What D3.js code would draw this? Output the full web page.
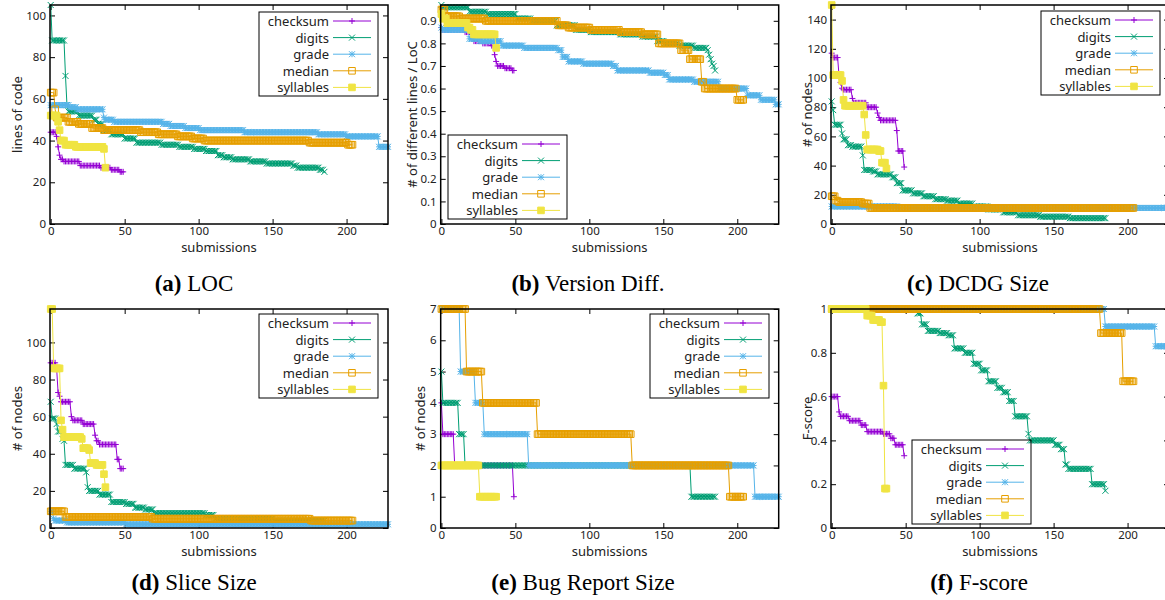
<!DOCTYPE html>
<html>
<head>
<meta charset="utf-8">
<script src="https://cdn.jsdelivr.net/npm/d3@7"></script>
<style>
    body { margin: 0; background: #fff; }
    svg text { font-family: "Noto Sans", sans-serif; fill: #222; }
    svg text.caption { font-family: "Liberation Serif", serif; fill: #000; }
</style>
</head>
<body>
<svg id="chart" width="1165" height="600"></svg>
<script>
// series order = legend order
var seriesNames = ["checksum", "digits", "grade", "median", "syllables"];
var seriesColors = ["#9400d3", "#009e73", "#56b4e9", "#e69f00", "#f0e442"];
var submissionCounts = [50, 186, 229, 205, 38];

// every series is a list of steps: [first submission, value], held until the next step
// (a) LOC
var locChecksum = [[0, 44], [4, 42], [5, 37], [6, 33], [7, 31], [9, 30], [20, 28], [34, 27], [41, 26], [47, 25]];
var locDigits = [[0, 105], [1, 88], [10, 71], [11, 57], [12, 54], [19, 52], [29, 50], [32, 48], [36, 45], [41, 43], [50, 41], [58, 39],
    [75, 38], [87, 37], [97, 36], [105, 35], [113, 33], [117, 32], [123, 31], [135, 30], [146, 29], [164, 28], [167, 27], [182, 26], [185, 25]];
var locGrade = [[0, 57], [13, 56], [18, 55], [36, 51], [37, 50], [43, 49], [76, 48], [81, 47], [91, 46], [101, 45], [131, 44], [181, 43], [200, 42], [222, 37]];
var locMedian = [[0, 63], [3, 55], [4, 51], [12, 49], [19, 48], [28, 46], [36, 45], [61, 44], [73, 43], [86, 42], [96, 41], [104, 40], [175, 39], [201, 38]];
var locSyllables = [[0, 52], [5, 49], [6, 45], [7, 40], [10, 38], [17, 37], [36, 36], [37, 27]];

// (b) Version Diff.
var diffChecksum = [[0, 0.87], [1, 0.86], [16, 0.85], [21, 0.82], [22, 0.81], [28, 0.80], [34, 0.79], [36, 0.75], [37, 0.72], [38, 0.70], [43, 0.69], [48, 0.68]];
var diffDigits = [[0, 0.97], [1, 0.96], [19, 0.94], [31, 0.93], [51, 0.91], [61, 0.90], [78, 0.88], [91, 0.86], [101, 0.85], [121, 0.84], [136, 0.83],
    [146, 0.81], [151, 0.80], [161, 0.79], [171, 0.78], [180, 0.77], [181, 0.75], [182, 0.73], [183, 0.71], [184, 0.70], [185, 0.68]];
var diffGrade = [[0, 0.87], [1, 0.86], [19, 0.82], [26, 0.81], [41, 0.79], [56, 0.78], [79, 0.77], [82, 0.74], [86, 0.72], [96, 0.71], [116, 0.70], [119, 0.68],
    [141, 0.67], [151, 0.66], [154, 0.64], [171, 0.63], [188, 0.60], [207, 0.57], [216, 0.55], [226, 0.53]];
var diffMedian = [[0, 0.95], [3, 0.92], [13, 0.91], [30, 0.90], [79, 0.88], [86, 0.87], [101, 0.86], [121, 0.85], [136, 0.84], [147, 0.80], [162, 0.77],
    [168, 0.73], [176, 0.63], [178, 0.60], [200, 0.55]];
var diffSyllables = [[0, 0.93], [1, 0.91], [4, 0.89], [18, 0.87], [20, 0.86], [22, 0.84], [37, 0.78]];

// (c) DCDG Size
var dcdgChecksum = [[0, 117], [1, 114], [5, 101], [6, 97], [7, 93], [8, 92], [14, 86], [15, 83], [24, 80], [31, 76], [32, 73], [33, 71], [44, 64], [45, 50], [49, 39]];
var dcdgDigits = [[0, 84], [1, 78], [2, 68], [7, 62], [8, 58], [11, 54], [14, 53], [21, 47], [22, 37], [28, 36], [31, 34], [41, 32], [44, 28], [48, 23],
    [55, 21], [62, 19], [70, 17], [78, 16], [86, 14], [96, 12], [106, 10], [116, 8], [126, 6], [141, 5], [161, 4]];
var dcdgGrade = [[0, 12], [45, 11]];
var dcdgMedian = [[0, 19], [3, 16], [5, 15], [21, 14], [26, 11]];
var dcdgSyllables = [[0, 150], [1, 102], [7, 98], [8, 85], [9, 81], [22, 75], [23, 61], [24, 51], [32, 50], [34, 42], [37, 38]];

// (d) Slice Size
var sliceChecksum = [[0, 89], [4, 86], [5, 73], [6, 71], [7, 68], [14, 60], [15, 58], [22, 56], [30, 50], [31, 47], [33, 45], [45, 37], [47, 32]];
var sliceDigits = [[0, 68], [1, 59], [4, 56], [5, 52], [8, 48], [9, 47], [10, 34], [16, 32], [24, 30], [25, 22], [26, 20], [33, 18], [41, 14], [51, 13],
    [57, 11], [64, 10], [70, 8], [105, 7], [111, 5], [151, 4]];
var sliceGrade = [[0, 9], [2, 5], [3, 4], [11, 3], [51, 2]];
var sliceMedian = [[0, 9], [10, 6], [69, 5], [176, 4]];
var sliceSyllables = [[0, 118], [2, 86], [7, 58], [8, 53], [9, 49], [21, 48], [22, 43], [26, 42], [27, 35], [31, 34], [36, 29], [37, 22]];

// (e) Bug Report Size
var bugChecksum = [[0, 4], [1, 3], [9, 2], [49, 1]];
var bugDigits = [[0, 5], [1, 4], [12, 3], [16, 2], [169, 1]];
var bugGrade = [[0, 7], [13, 5], [23, 4], [29, 3], [59, 2], [212, 1]];
var bugMedian = [[0, 7], [17, 5], [28, 4], [65, 3], [129, 2], [195, 1]];
var bugSyllables = [[0, 2], [26, 1]];

// (f) F-score
var fChecksum = [[0, 0.60], [5, 0.53], [6, 0.51], [12, 0.49], [20, 0.47], [24, 0.44], [35, 0.43], [40, 0.41], [43, 0.38], [49, 0.33]];
var fDigits = [[0, 1], [58, 0.98], [61, 0.93], [65, 0.90], [73, 0.89], [79, 0.88], [83, 0.82], [90, 0.80], [96, 0.75], [101, 0.72], [106, 0.67],
    [112, 0.64], [116, 0.62], [120, 0.58], [124, 0.51], [133, 0.43], [134, 0.40], [151, 0.38], [155, 0.36], [158, 0.29], [160, 0.27], [176, 0.20], [185, 0.17]];
var fGrade = [[0, 1], [185, 0.92], [219, 0.83]];
var fMedian = [[0, 1], [182, 0.89], [197, 0.67]];
var fSyllables = [[0, 1], [24, 0.97], [28, 0.95], [33, 0.94], [35, 0.65], [36, 0.18]];

// tick labels
var xTicks = [0, 50, 100, 150, 200];
var locTicks = [0, 20, 40, 60, 80, 100];
var diffTicks = [0, 0.1, 0.2, 0.3, 0.4, 0.5, 0.6, 0.7, 0.8, 0.9];
var dcdgTicks = [0, 20, 40, 60, 80, 100, 120, 140];
var sliceTicks = [0, 20, 40, 60, 80, 100];
var bugTicks = [0, 1, 2, 3, 4, 5, 6, 7];
var fTicks = [0, 0.2, 0.4, 0.6, 0.8, 1];

var panels = [
    {series: [locChecksum, locDigits, locGrade, locMedian, locSyllables], yTicks: locTicks, ylabel: "lines of code",
        left: 50, top: 5, ylabelX: 17, legendX: 259, legendY: 12, letter: "(a)", title: " LOC", capX: 194, capY: 291},
    {series: [diffChecksum, diffDigits, diffGrade, diffMedian, diffSyllables], yTicks: diffTicks, ylabel: "# of different lines / LoC",
        left: 440.7, top: 5, ylabelX: 412, legendX: 448, legendY: 135, letter: "(b)", title: " Version Diff.", capX: 588, capY: 291},
    {series: [dcdgChecksum, dcdgDigits, dcdgGrade, dcdgMedian, dcdgSyllables], yTicks: dcdgTicks, ylabel: "# of nodes",
        left: 831, top: 5, ylabelX: 807, legendX: 1041, legendY: 11, letter: "(c)", title: " DCDG Size", capX: 978, capY: 291},
    {series: [sliceChecksum, sliceDigits, sliceGrade, sliceMedian, sliceSyllables], yTicks: sliceTicks, ylabel: "# of nodes",
        left: 50, top: 309, ylabelX: 17, legendX: 259, legendY: 314, letter: "(d)", title: " Slice Size", capX: 194, capY: 590},
    {series: [bugChecksum, bugDigits, bugGrade, bugMedian, bugSyllables], yTicks: bugTicks, ylabel: "# of nodes",
        left: 440.7, top: 309, ylabelX: 420, legendX: 650, legendY: 314, letter: "(e)", title: " Bug Report Size", capX: 583, capY: 590},
    {series: [fChecksum, fDigits, fGrade, fMedian, fSyllables], yTicks: fTicks, ylabel: "F-score",
        left: 831, top: 309, ylabelX: 807, legendX: 912, legendY: 440, letter: "(f)", title: " F-score", capX: 979, capY: 590}
];

var W = 338, H = 219;
var svg = d3.select("#chart");

// turn the step list into one point per submission
function expand_steps(steps, n) {
    var pts = [], k = 0;
    for (var i = 0; i < n; i++) {
        while (k + 1 < steps.length && steps[k + 1][0] <= i) k++;
        pts.push([i, steps[k][1]]);
    }
    return pts;
}

// gnuplot point types 1..5
function point_path(idx, x, y) {
    var s = 3, q = 3.3;
    var plus = "M" + (x - s) + "," + y + "H" + (x + s) + "M" + x + "," + (y - s) + "V" + (y + s);
    var cross = "M" + (x - s) + "," + (y - s) + "L" + (x + s) + "," + (y + s) + "M" + (x - s) + "," + (y + s) + "L" + (x + s) + "," + (y - s);
    var square = "M" + (x - q) + "," + (y - q) + "h" + (2 * q) + "v" + (2 * q) + "h" + (-2 * q) + "Z";
    if (idx == 0) return plus;
    if (idx == 1) return cross;
    if (idx == 2) return plus + cross;
    return square;
}

function draw_series(g, pts, idx, x, y) {
    var col = seriesColors[idx];
    g.append("path").datum(pts)
        .attr("d", d3.line().x(function (d) { return x(d[0]); }).y(function (d) { return y(d[1]); }))
        .attr("fill", "none").attr("stroke", col).attr("stroke-width", 1);
    g.append("g").selectAll("path").data(pts).join("path")
        .attr("d", function (d) { return point_path(idx, x(d[0]), y(d[1])); })
        .attr("fill", idx == 4 ? col : "none")
        .attr("stroke", col).attr("stroke-width", 1);
}

function draw_legend(g, lx, ly) {
    g.append("rect").attr("x", lx).attr("y", ly).attr("width", 119).attr("height", 84)
        .attr("fill", "none").attr("stroke", "#000").attr("stroke-width", 1);
    seriesNames.forEach(function (name, i) {
        var yy = ly + 9 + i * 16.6;
        g.append("text").attr("x", lx + 70).attr("y", yy).attr("text-anchor", "end")
            .attr("dominant-baseline", "central").style("font-size", "13px").text(name);
        g.append("line").attr("x1", lx + 74).attr("x2", lx + 112).attr("y1", yy).attr("y2", yy)
            .attr("stroke", seriesColors[i]).attr("stroke-width", 1);
        g.append("path").attr("d", point_path(i, lx + 93, yy))
            .attr("fill", i == 4 ? seriesColors[i] : "none").attr("stroke", seriesColors[i]);
    });
}

panels.forEach(function (p) {
    var g = svg.append("g");
    var data = p.series.map(function (s, i) { return expand_steps(s, submissionCounts[i]); });
    var xMax = d3.max(submissionCounts) - 1;
    var yMax = d3.max(data, function (d) { return d3.max(d, function (e) { return e[1]; }); });
    var x = d3.scaleLinear().domain([0, xMax]).range([p.left + 0.7, p.left + W]);
    var y = d3.scaleLinear().domain([0, yMax]).range([p.top + H, p.top]);

    // axes with inward ticks on all four sides
    var fmt = d3.format("~g");
    var ax = g.append("g").attr("transform", "translate(0," + (p.top + H) + ")")
        .call(d3.axisBottom(x).tickValues(xTicks).tickSizeInner(-5).tickSizeOuter(0).tickPadding(3).tickFormat(fmt));
    var at = g.append("g").attr("transform", "translate(0," + p.top + ")")
        .call(d3.axisTop(x).tickValues(xTicks).tickSizeInner(-5).tickSizeOuter(0).tickFormat(""));
    var ay = g.append("g").attr("transform", "translate(" + p.left + ",0)")
        .call(d3.axisLeft(y).tickValues(p.yTicks).tickSizeInner(-5).tickSizeOuter(0).tickPadding(4).tickFormat(fmt));
    var ar = g.append("g").attr("transform", "translate(" + (p.left + W) + ",0)")
        .call(d3.axisRight(y).tickValues(p.yTicks).tickSizeInner(-5).tickSizeOuter(0).tickFormat(""));
    [ax, at, ay, ar].forEach(function (a) {
        a.select(".domain").remove();
        a.selectAll("line").attr("stroke", "#000");
        a.selectAll("text").style("font-size", "11.5px").attr("fill", "#222");
    });

    p.series.forEach(function (s, i) { draw_series(g, data[i], i, x, y); });

    g.append("rect").attr("x", p.left).attr("y", p.top).attr("width", W).attr("height", H)
        .attr("fill", "none").attr("stroke", "#000").attr("stroke-width", 1.5);

    g.append("text").attr("x", p.left + W / 2).attr("y", p.top + H + 23).attr("text-anchor", "middle")
        .attr("dominant-baseline", "central").style("font-size", "13px").text("submissions");
    g.append("text").attr("transform", "translate(" + p.ylabelX + "," + (p.top + H / 2) + ") rotate(-90)")
        .attr("text-anchor", "middle").attr("dominant-baseline", "central").style("font-size", "13px").text(p.ylabel);

    draw_legend(g, p.legendX, p.legendY);

    var cap = svg.append("text").attr("class", "caption").attr("x", p.capX).attr("y", p.capY)
        .attr("text-anchor", "middle").style("font-size", "23px");
    cap.append("tspan").style("font-weight", "bold").text(p.letter);
    cap.append("tspan").text(p.title);
});
</script>
</body>
</html>
